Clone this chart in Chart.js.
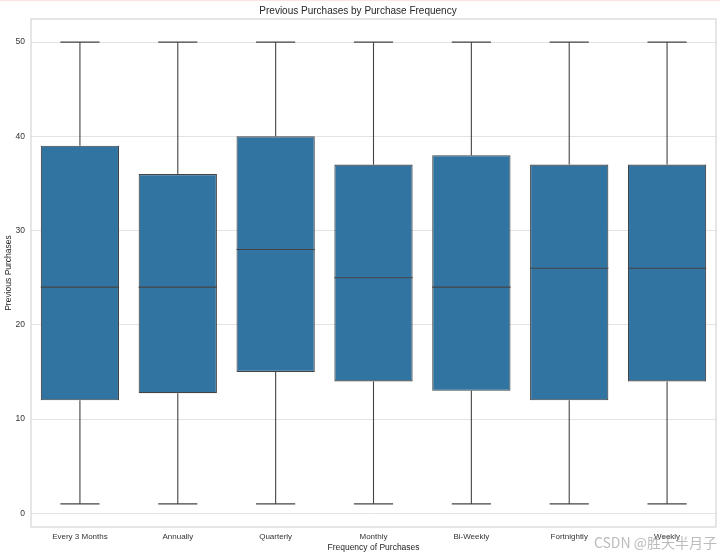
<!DOCTYPE html>
<html>
<head>
<meta charset="utf-8">
<script src="https://cdn.jsdelivr.net/npm/chart.js@4"></script>
<style>
  html, body { margin: 0; padding: 0; background: #fff; }
  #wrap { width: 720px; height: 556px; position: relative; border-top: 1px solid #fbe3e3; box-sizing: border-box; }
</style>
</head>
<body>
<div id="wrap"><canvas id="chart"></canvas></div>
<script>
// Категории частоты покупок и статистики ящика (min, q1, median, q3, max)
const categories = ["Every 3 Months", "Annually", "Quarterly", "Monthly", "Bi-Weekly", "Fortnightly", "Weekly"]
const whiskerLow = [1, 1, 1, 1, 1, 1, 1]
const q1 = [12, 12.75, 15, 14, 13, 12, 14]
const medians = [24, 24, 28, 25, 24, 26, 26]
const q3 = [39, 36, 40, 37, 38, 37, 37]
const whiskerHigh = [50, 50, 50, 50, 50, 50, 50]
const yTicks = [0, 10, 20, 30, 40, 50]

const FONT = "'Liberation Sans', Arial, sans-serif"
const BOX_COLOR = "#3274a1"
const LINE_COLOR = "#444444"

// Рисует усы, колпачки и медианы поверх прямоугольников
const boxPlugin = {
  id: "boxExtras",
  afterDatasetsDraw(chart) {
    const { ctx, scales: { x, y } } = chart
    const meta = chart.getDatasetMeta(0)
    ctx.save()
    ctx.strokeStyle = LINE_COLOR
    ctx.lineWidth = 1.1
    categories.forEach((_, i) => {
      const bar = meta.data[i]
      const cx = x.getPixelForValue(i)
      const half = bar.width / 2
      const cap = half / 2
      const line = (x1, y1, x2, y2) => {
        ctx.beginPath()
        ctx.moveTo(x1, y1)
        ctx.lineTo(x2, y2)
        ctx.stroke()
      }
      line(cx, y.getPixelForValue(q3[i]), cx, y.getPixelForValue(whiskerHigh[i]))
      line(cx, y.getPixelForValue(q1[i]), cx, y.getPixelForValue(whiskerLow[i]))
      line(cx - cap, y.getPixelForValue(whiskerHigh[i]), cx + cap, y.getPixelForValue(whiskerHigh[i]))
      line(cx - cap, y.getPixelForValue(whiskerLow[i]), cx + cap, y.getPixelForValue(whiskerLow[i]))
      line(cx - half, y.getPixelForValue(medians[i]), cx + half, y.getPixelForValue(medians[i]))
    })
    ctx.restore()
  },
  beforeDatasetsDraw(chart) {
    // рамка осей как в seaborn whitegrid
    const { ctx, chartArea: a } = chart
    ctx.save()
    ctx.strokeStyle = "#d6d6d6"
    ctx.lineWidth = 1.2
    ctx.strokeRect(a.left, a.top, a.right - a.left, a.bottom - a.top)
    ctx.restore()
  },
  afterDraw(chart) {
    // водяной знак
    const { ctx } = chart
    ctx.save()
    ctx.font = "14px 'Noto Sans CJK SC', " + FONT
    ctx.fillStyle = "rgba(160, 160, 160, 0.7)"
    ctx.textAlign = "right"
    ctx.textBaseline = "middle"
    ctx.fillText("CSDN @胜天半月子", 717, 542)
    ctx.restore()
  }
}

new Chart(document.getElementById("chart"), {
  type: "bar",
  data: {
    labels: categories,
    datasets: [{
      label: "Previous Purchases",
      data: categories.map((_, i) => [q1[i], q3[i]]),
      backgroundColor: BOX_COLOR,
      borderColor: LINE_COLOR,
      borderWidth: 1.1,
      borderSkipped: false,
      categoryPercentage: 0.8,
      barPercentage: 1.0
    }]
  },
  options: {
    responsive: true,
    maintainAspectRatio: false,
    animation: false,
    layout: { padding: { left: 0, right: 4, top: 0, bottom: 0 } },
    plugins: {
      legend: { display: false },
      tooltip: { enabled: false },
      title: {
        display: true,
        text: "Previous Purchases by Purchase Frequency",
        color: "#262626",
        font: { family: FONT, size: 10, weight: "normal" },
        padding: { top: 4, bottom: 2 }
      }
    },
    scales: {
      x: {
        afterFit: (axis) => { axis.height = 29 },
        grid: { display: false, drawTicks: false },
        border: { display: false },
        ticks: { color: "#333", font: { family: FONT, size: 8 }, padding: 5, maxRotation: 0 },
        title: {
          display: true,
          text: "Frequency of Purchases",
          color: "#262626",
          font: { family: FONT, size: 8.5 },
          padding: { top: 1, bottom: 3 }
        }
      },
      y: {
        min: -1.45,
        max: 52.45,
        afterBuildTicks: (axis) => { axis.ticks = yTicks.map(v => ({ value: v })) },
        afterFit: (axis) => { axis.width = 31 },
        grid: { color: "#e3e3e3", lineWidth: 1, drawTicks: false },
        border: { display: false },
        ticks: { color: "#333", font: { family: FONT, size: 8.5 }, padding: 6 },
        title: {
          display: true,
          text: "Previous Purchases",
          color: "#262626",
          font: { family: FONT, size: 8.5 },
          padding: { top: 4, bottom: 0 }
        }
      }
    }
  },
  plugins: [boxPlugin]
})
</script>
</body>
</html>
